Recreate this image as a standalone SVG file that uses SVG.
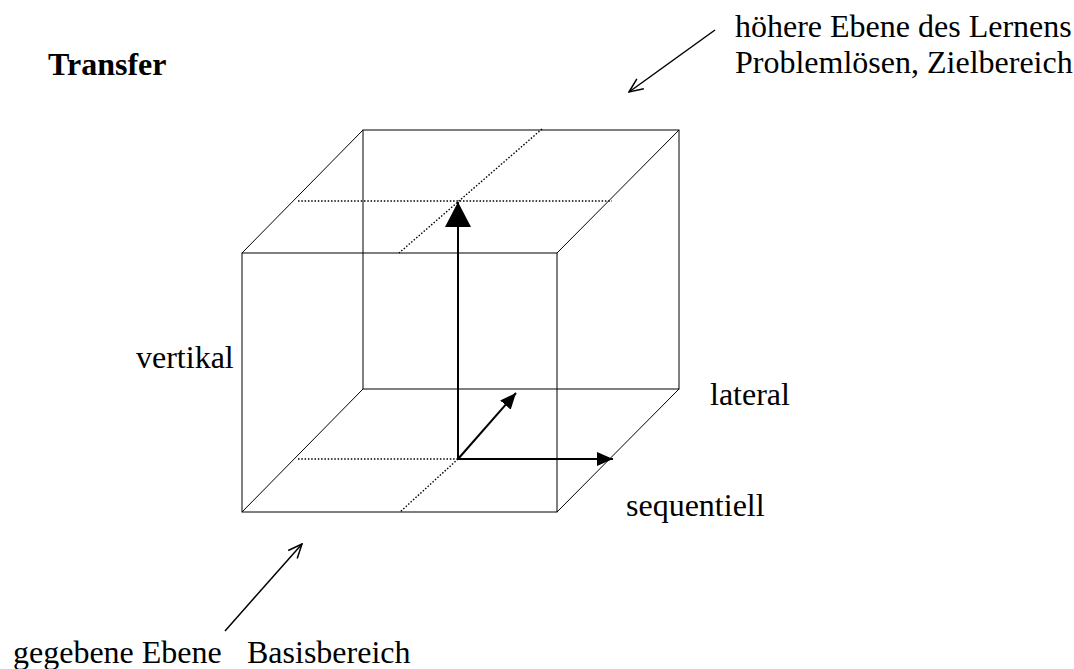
<svg xmlns="http://www.w3.org/2000/svg" width="1074" height="669" viewBox="0 0 1074 669">
<defs>
<style>
.t{font-family:"Liberation Serif","Times New Roman",serif;font-size:32px;fill:#000}
.b{font-weight:bold}
.edge{stroke:#000;stroke-width:1;fill:none}
.dot{stroke:#000;stroke-width:1.4;stroke-dasharray:1.5 1.8;fill:none}
.arr{stroke:#000;stroke-width:2;fill:none}
.ptr{stroke:#000;stroke-width:1.5;fill:none}
</style>
<marker id="big" viewBox="0 0 25 26" refX="25" refY="13" markerWidth="25" markerHeight="26" markerUnits="userSpaceOnUse" orient="auto">
<path d="M0,0 L25,13 L0,26 Z" fill="#000"/>
</marker>
<marker id="small" viewBox="0 0 16 14" refX="16" refY="7" markerWidth="16" markerHeight="14" markerUnits="userSpaceOnUse" orient="auto">
<path d="M0,0 L16,7 L0,14 Z" fill="#000"/>
</marker>
<marker id="open" viewBox="0 0 16 14" refX="15" refY="7" markerWidth="16" markerHeight="14" markerUnits="userSpaceOnUse" orient="auto">
<path d="M1,1 L15,7 L1,13" fill="none" stroke="#000" stroke-width="1.5"/>
</marker>
</defs>
<rect width="1074" height="669" fill="#fff"/>
<g id="cube">
<rect class="edge" x="363" y="130" width="316" height="259"/>
<rect class="edge" x="242" y="253" width="315" height="259"/>
<line class="edge" x1="363" y1="130" x2="242" y2="253"/>
<line class="edge" x1="679" y1="130" x2="557" y2="253"/>
<line class="edge" x1="363" y1="389" x2="242" y2="512"/>
<line class="edge" x1="679" y1="389" x2="557" y2="512"/>
<line class="dot" x1="298" y1="201" x2="612" y2="201"/>
<line class="dot" x1="542" y1="129" x2="399" y2="253"/>
<line class="dot" x1="298" y1="459" x2="458" y2="459"/>
<line class="dot" x1="458" y1="459" x2="400" y2="512"/>
</g>
<g id="connectors">
<line class="arr" x1="458" y1="459" x2="458" y2="202" marker-end="url(#big)"/>
<line class="arr" x1="458" y1="459" x2="516" y2="393" marker-end="url(#small)"/>
<line class="arr" x1="458" y1="459" x2="613" y2="459" marker-end="url(#small)"/>
<line class="ptr" x1="715" y1="30" x2="629" y2="92" marker-end="url(#open)"/>
<line class="ptr" x1="225" y1="631" x2="302" y2="544" marker-end="url(#open)"/>
</g>
<g id="labels">
<text class="t b" x="48" y="75">Transfer</text>
<text class="t" x="735" y="37">höhere Ebene des Lernens</text>
<text class="t" x="735" y="73">Problemlösen, Zielbereich</text>
<text class="t" x="136" y="368">vertikal</text>
<text class="t" x="710" y="405">lateral</text>
<text class="t" x="626" y="516">sequentiell</text>
<text class="t" x="13" y="663">gegebene Ebene</text>
<text class="t" x="247" y="663">Basisbereich</text>
</g>
</svg>
